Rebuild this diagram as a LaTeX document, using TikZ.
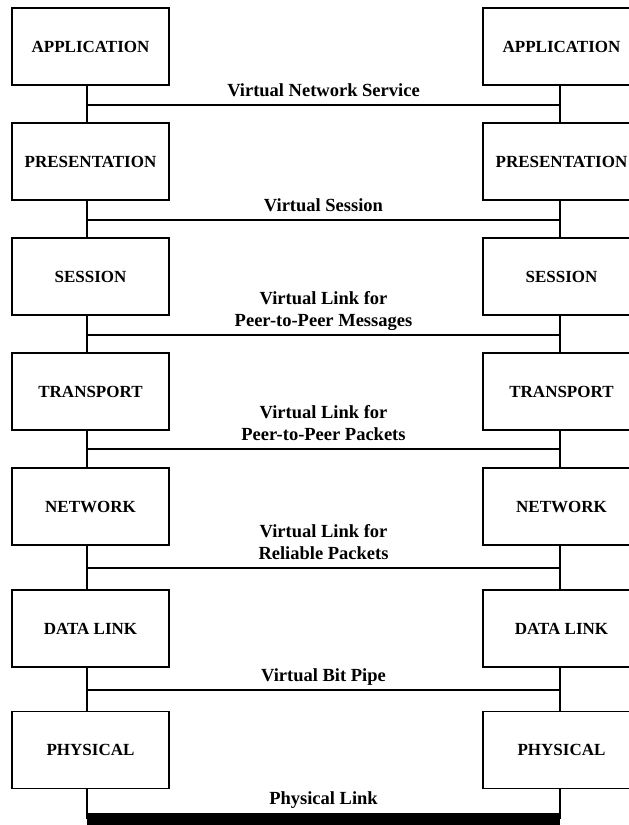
\documentclass[tikz,border=0pt]{standalone}
\usepackage{fontspec}
\setmainfont{Liberation Serif}
\begin{document}
\begin{tikzpicture}[x=1pt,y=-1pt,
  layer/.style={draw, line width=1.6pt, minimum width=157pt, minimum height=77pt,
    inner sep=0pt, font=\fontsize{17}{20}\selectfont\bfseries, fill=white},
  wire/.style={line width=2pt},
  link/.style={line width=2.4pt},
  lbl/.style={anchor=south, inner sep=0pt, text depth=0pt, align=center,
    font=\fontsize{18.5}{22}\selectfont\bfseries}]
\clip (0,0) rectangle (629,825);

% junction points on the two stacks
\foreach \i/\y in {1/105, 2/220, 3/335, 4/449, 5/568, 6/690}{
  \coordinate (jl\i) at (87,\y);
  \coordinate (jr\i) at (560,\y);
}
\coordinate (bl) at (87,819);
\coordinate (br) at (560,819);

% layer boxes
\foreach \i/\y/\t in {1/46.5/APPLICATION, 2/161.5/PRESENTATION, 3/276.5/SESSION,
    4/391.5/TRANSPORT, 5/506.5/NETWORK, 6/628.5/DATA LINK, 7/750/PHYSICAL}{
  \node[layer] (L\i) at (90.5,\y) {\t};
  \node[layer] (R\i) at (561.5,\y) {\t};
}

% stack connections
\foreach \i/\j in {1/2, 2/3, 3/4, 4/5, 5/6, 6/7}{
  \draw[wire] (L\i.south -| jl1) -- (L\j.north -| jl1);
  \draw[wire] (R\i.south -| jr1) -- (R\j.north -| jr1);
}
\draw[wire] (L7.south -| jl1) -- (bl);
\draw[wire] (R7.south -| jr1) -- (br);

% peer links
\foreach \i in {1,...,6}{
  \draw[link] (jl\i) -- (jr\i);
}
\draw[line width=12pt] (bl) -- (br);

% link labels
\node[lbl] (lab1) at (323.5,97) {Virtual Network Service};
\node[lbl] (lab2) at (323.5,212) {Virtual Session};
\node[lbl] (lab3) at (323.5,327) {Virtual Link for\\Peer-to-Peer Messages};
\node[lbl] (lab4) at (323.5,441) {Virtual Link for\\Peer-to-Peer Packets};
\node[lbl] (lab5) at (323.5,560) {Virtual Link for\\Reliable Packets};
\node[lbl] (lab6) at (323.5,682) {Virtual Bit Pipe};
\node[lbl] (lab7) at (323.5,805) {Physical Link};
\end{tikzpicture}
\end{document}
